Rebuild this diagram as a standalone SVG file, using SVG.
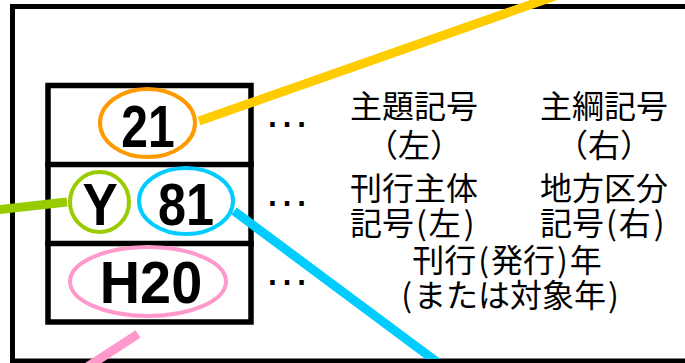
<svg xmlns="http://www.w3.org/2000/svg" width="685" height="363" viewBox="0 0 685 363">
<style>
.frame{fill:none;stroke:#000;stroke-width:5}
.tbl{fill:none;stroke:#000;stroke-width:5.5;stroke-linecap:square}
.ell{fill:none;stroke-width:4}
.con{fill:none;stroke-width:9;stroke-linecap:butt}
.num{font-family:"Liberation Sans",Arial,sans-serif;font-weight:bold;font-size:60px;fill:#000;text-anchor:middle}
.dots{font-family:"Liberation Sans",Arial,sans-serif;font-size:46px;fill:#000}
.jp{font-family:"Noto Sans CJK JP","Noto Sans CJK SC",sans-serif;font-size:32px;fill:#000}
.mid{text-anchor:middle}
</style>
<defs>
<clipPath id="clipBottom"><rect x="0" y="0" width="685" height="359"/></clipPath>
</defs>
<rect width="685" height="363" fill="#fff"/>
<rect id="frame" class="frame" x="12.5" y="6.5" width="700" height="354.5"/>
<g id="table">
<rect class="tbl" x="48" y="85.5" width="203" height="236.5"/>
<line class="tbl" x1="48" y1="164.5" x2="251" y2="164.5"/>
<line class="tbl" x1="48" y1="243.5" x2="251" y2="243.5"/>
</g>
<g id="connectors">
<line class="con" stroke="#FFCC00" x1="199" y1="121" x2="578" y2="-12"/>
<line class="con" stroke="#99CC00" x1="-5" y1="210" x2="67" y2="202"/>
<line class="con" stroke="#FF99CC" x1="138" y1="334" x2="84" y2="369"/>
<line class="con" stroke="#00CCFF" clip-path="url(#clipBottom)" x1="234" y1="211" x2="445" y2="368"/>
</g>
<g id="node-21">
<ellipse class="ell" stroke="#FF9900" cx="147.5" cy="123" rx="47.5" ry="34"/>
<text class="num" transform="translate(148,147) scale(0.8,1)">21</text>
</g>
<g id="node-Y">
<ellipse class="ell" stroke="#99CC00" cx="99.5" cy="202" rx="29.5" ry="30"/>
<text class="num" transform="translate(100,225) scale(0.88,1)">Y</text>
</g>
<g id="node-81">
<ellipse class="ell" stroke="#00CCFF" cx="186" cy="201" rx="47" ry="33"/>
<text class="num" transform="translate(186,225) scale(0.84,1)">81</text>
</g>
<g id="node-H20">
<ellipse class="ell" stroke="#FF99CC" cx="148" cy="281.5" rx="78" ry="34.5"/>
<text class="num" transform="translate(151,303) scale(0.93,1)">H20</text>
</g>
<g id="dots">
<text class="dots" x="264" y="127">…</text>
<text class="dots" x="264" y="206">…</text>
<text class="dots" x="264" y="285">…</text>
</g>
<g id="labels">
<text class="jp" x="350" y="118">主題記号</text>
<text class="jp mid" x="414" y="157">（左）</text>
<text class="jp" x="540" y="118">主綱記号</text>
<text class="jp mid" x="604" y="157">（右）</text>
<text class="jp" x="350" y="200">刊行主体</text>
<text class="jp" x="350" y="235">記号<tspan dx="2">(</tspan><tspan dx="2">左</tspan><tspan dx="3">)</tspan></text>
<text class="jp" x="540" y="200">地方区分</text>
<text class="jp" x="540" y="235">記号<tspan dx="2">(</tspan><tspan dx="2">右</tspan><tspan dx="3">)</tspan></text>
<text class="jp mid" x="507" y="272">刊行<tspan dx="2">(</tspan><tspan dx="2">発行</tspan><tspan dx="2">)</tspan><tspan dx="2">年</tspan></text>
<text class="jp mid" x="510" y="307">(<tspan dx="2">または対象年</tspan><tspan dx="2">)</tspan></text>
</g>
</svg>
